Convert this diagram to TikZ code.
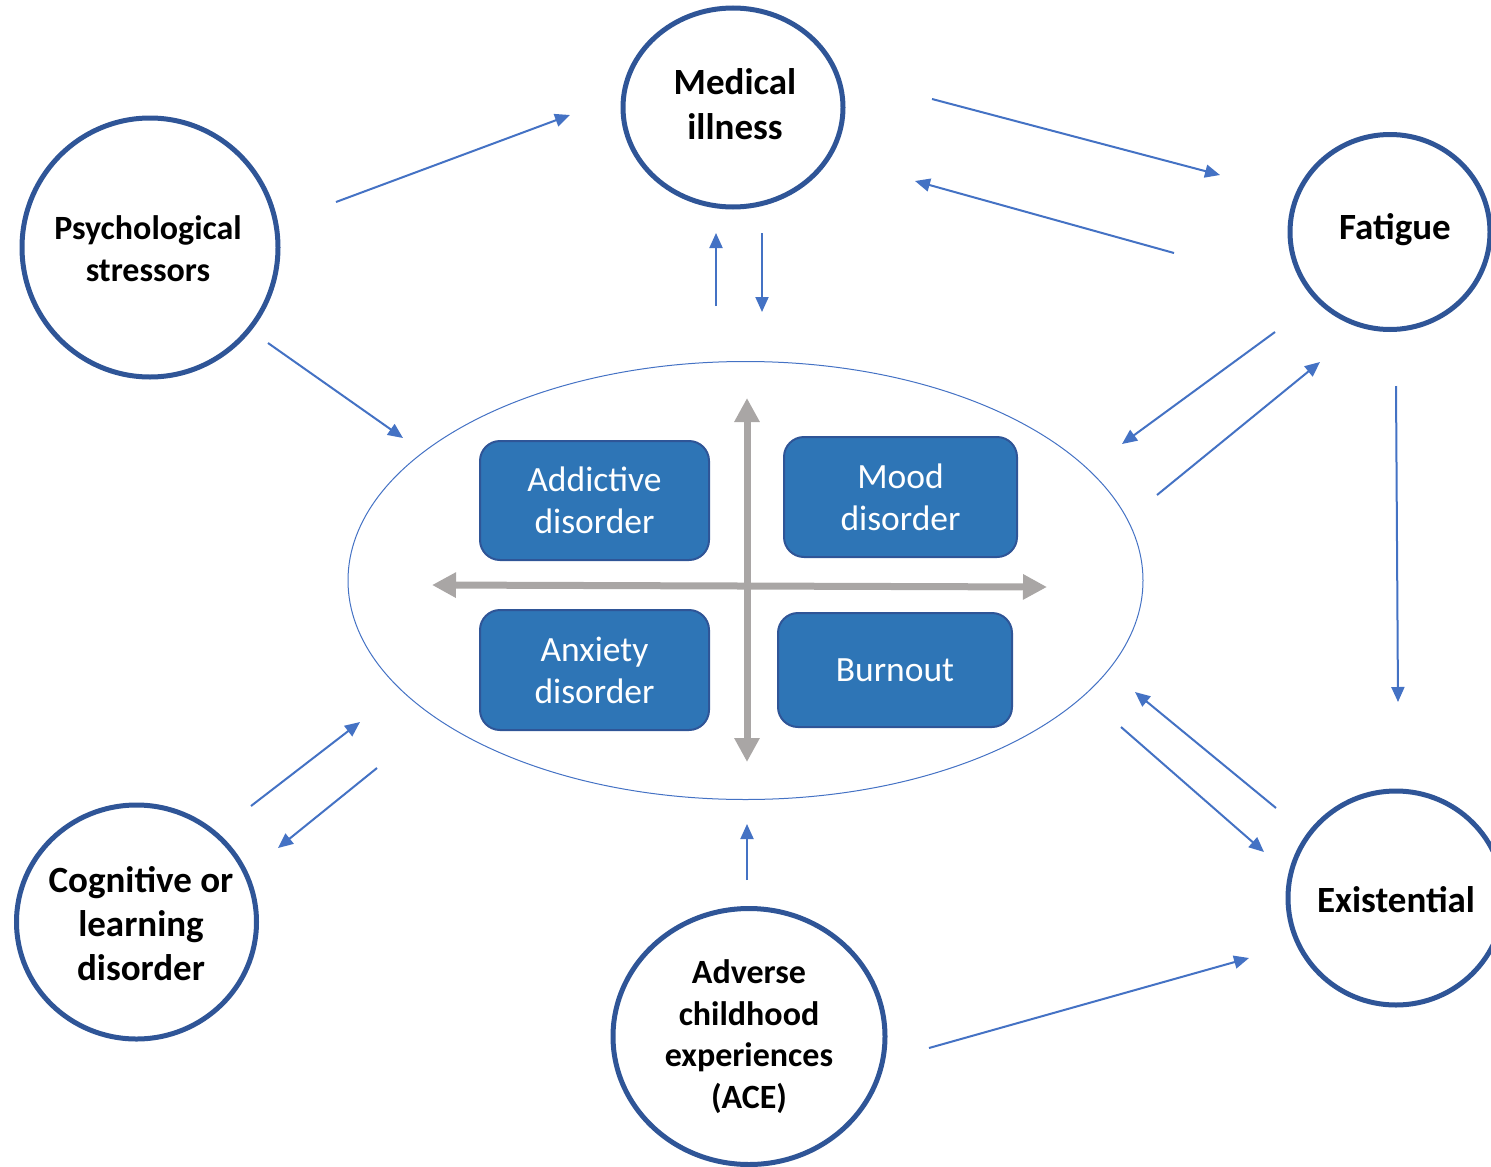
\documentclass[tikz,border=0pt]{standalone}
\usepackage{fontspec}
\setmainfont{Carlito}
\usetikzlibrary{arrows.meta,shapes.geometric}
\definecolor{ringblue}{HTML}{2F5597}
\definecolor{linkblue}{HTML}{4472C4}
\definecolor{boxblue}{HTML}{2E75B6}
\definecolor{axisgray}{HTML}{A9A6A5}
\tikzset{
  factor/.style={ellipse, draw=ringblue, line width=5pt, fill=white, inner sep=0pt},
  factortext/.style={align=center, inner sep=0pt, font=\bfseries\fontsize{34}{42}\selectfont},
  disorder/.style={draw=ringblue, line width=2pt, fill=boxblue, rounded corners=20pt,
    text=white, align=center, font=\fontsize{35.5}{42}\selectfont},
  link/.style={draw=linkblue, line width=2pt, -{Triangle[length=15pt,width=13pt]}},
  axis/.style={draw=axisgray, line width=7pt, {Triangle[length=24pt,width=24pt]}-{Triangle[length=24pt,width=24pt]}},
}
\begin{document}
\begin{tikzpicture}[x=1pt,y=-1pt]
\useasboundingbox (0,0) rectangle (1491,1167);
\clip (0,0) rectangle (1491,1167);

% central field of conditions
\node[ellipse, draw=linkblue, line width=1pt, minimum width=795pt, minimum height=438pt, inner sep=0pt] (core) at (745.5,580.5) {};

\node[disorder, minimum width=229pt, minimum height=119pt] (addict) at (594.5,500.5) {Addictive\\disorder};
\node[disorder, minimum width=233pt, minimum height=120pt] (mood) at (900.5,497) {Mood\\disorder};
\node[disorder, minimum width=229pt, minimum height=120pt] (anx) at (594.5,670) {Anxiety\\disorder};
\node[disorder, minimum width=234pt, minimum height=114pt] (burn) at (895,670) {Burnout};

\coordinate (axL) at (432,585);
\coordinate (axR) at (1047,587);
\coordinate (axT) at (747,398);
\coordinate (axB) at (747,762);
\draw[axis] (axL) -- (axR);
\draw[axis] (axT) -- (axB);

% surrounding factors: rings, then their labels
\node[factor, minimum width=256pt, minimum height=259pt] (psych) at (150,247.5) {};
\node[factor, minimum width=220pt, minimum height=199pt] (med) at (733,107.5) {};
\node[factor, minimum width=200pt, minimum height=195pt] (fat) at (1390,232) {};
\node[factor, minimum width=216pt, minimum height=214pt] (exist) at (1396,898) {};
\node[factor, minimum width=240pt, minimum height=234pt] (cog) at (136.5,922) {};
\node[factor, minimum width=272pt, minimum height=256pt] (ace) at (749,1036.5) {};

\node[factortext] (psychT) at (148,248.5) {Psychological\\stressors};
\node[factortext, font=\bfseries\fontsize{37}{45}\selectfont] (medT) at (735,104) {Medical\\illness};
\node[factortext, font=\bfseries\fontsize{37}{44}\selectfont] (fatT) at (1395,230) {Fatigue};
\node[factortext, font=\bfseries\fontsize{37}{44}\selectfont] (existT) at (1396,900) {Existential};
\node[factortext, font=\bfseries\fontsize{37}{44}\selectfont] (cogT) at (141,924) {Cognitive or\\learning\\disorder};
\node[factortext, font=\bfseries\fontsize{34}{41.5}\selectfont] (aceT) at (749,1036.5) {Adverse\\childhood\\experiences\\(ACE)};

% connector end points
\coordinate (psychA) at (336,202);   \coordinate (medA) at (570,115);
\coordinate (medB) at (932,99);     \coordinate (fatB) at (1220,175);
\coordinate (fatC) at (1174,253);   \coordinate (medC) at (915,181);
\coordinate (coreD) at (716,306);   \coordinate (medD) at (716,233);
\coordinate (medE) at (762,233);    \coordinate (coreE) at (762,312);
\coordinate (psychF) at (268,343);  \coordinate (coreF) at (403,438);
\coordinate (fatG) at (1275,332);   \coordinate (coreG) at (1122,444);
\coordinate (coreH) at (1157,495);  \coordinate (fatH) at (1320,362);
\coordinate (fatI) at (1396,386);   \coordinate (existI) at (1398,702);
\coordinate (existJ) at (1276,808); \coordinate (coreJ) at (1135,692);
\coordinate (coreK) at (1121,727);  \coordinate (existK) at (1264,852);
\coordinate (aceL) at (929,1048);   \coordinate (existL) at (1249,958);
\coordinate (aceM) at (747,880);    \coordinate (coreM) at (747,824);
\coordinate (cogN) at (251,806);    \coordinate (coreN) at (360,722);
\coordinate (coreO) at (377,768);   \coordinate (cogO) at (278,848);

\draw[link] (psychA) -- (medA);
\draw[link] (medB) -- (fatB);
\draw[link] (fatC) -- (medC);
\draw[link] (coreD) -- (medD);
\draw[link] (medE) -- (coreE);
\draw[link] (psychF) -- (coreF);
\draw[link] (fatG) -- (coreG);
\draw[link] (coreH) -- (fatH);
\draw[link] (fatI) -- (existI);
\draw[link] (existJ) -- (coreJ);
\draw[link] (coreK) -- (existK);
\draw[link] (aceL) -- (existL);
\draw[link] (aceM) -- (coreM);
\draw[link] (cogN) -- (coreN);
\draw[link] (coreO) -- (cogO);
\end{tikzpicture}
\end{document}
